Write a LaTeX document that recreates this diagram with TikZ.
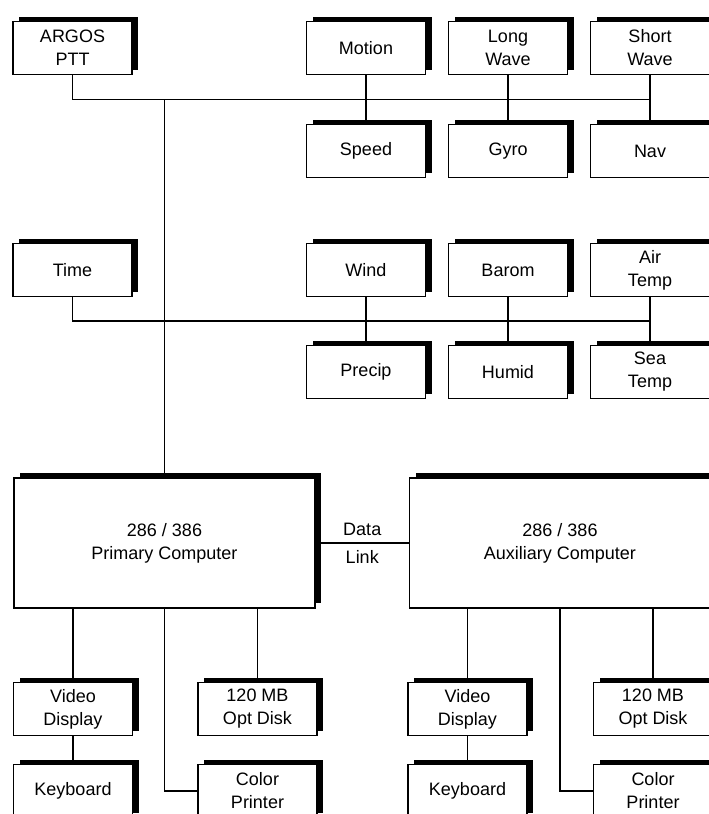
\documentclass[tikz,border=0pt]{standalone}
\usepackage{fontspec}
\setmainfont{Liberation Sans}
\usetikzlibrary{positioning,shadows,calc}

\begin{document}
\begin{tikzpicture}[x=1pt, y=1pt, node distance=142pt, auto, font=\fontsize{18}{23}\selectfont,
    unitbox/.style={rectangle, draw, fill=white, line width=1.6pt, minimum width=119pt, minimum height=53pt, align=center,
        drop shadow={shadow xshift=6pt, shadow yshift=5pt, fill=black, opacity=1}},
    cpubox/.style={unitbox, minimum width=301pt, minimum height=130pt},
    link/.style={line width=1.2pt}]
    \useasboundingbox (0,0) rectangle (709,-814);
    \clip (0,0) rectangle (709,-814);

    % navigation sensors
    \node (argos) [unitbox] at (72.5,-48) {ARGOS\\PTT};
    \node (motion) [unitbox, right of=argos, xshift=151.5pt] {Motion};
    \node (longwave) [unitbox, right of=motion] {Long\\Wave};
    \node (shortwave) [unitbox, right of=longwave] {Short\\Wave};
    \node (speed) [unitbox, below of=motion, yshift=39pt] {Speed};
    \node (gyro) [unitbox, below of=longwave, yshift=39pt] {Gyro};
    \node (nav) [unitbox, below of=shortwave, yshift=39pt] {Nav};

    % weather sensors
    \node (time) [unitbox, below of=argos, yshift=-80pt] {Time};
    \node (wind) [unitbox, below of=motion, yshift=-80pt] {Wind};
    \node (barom) [unitbox, below of=longwave, yshift=-80pt] {Barom};
    \node (airtemp) [unitbox, below of=shortwave, yshift=-80pt] {Air\\Temp};
    \node (precip) [unitbox, below of=wind, yshift=40pt] {Precip};
    \node (humid) [unitbox, below of=barom, yshift=40pt] {Humid};
    \node (seatemp) [unitbox, below of=airtemp, yshift=40pt] {Sea\\Temp};

    % computers
    \node (primary) [cpubox, below of=time, xshift=92pt, yshift=-131pt] {286 / 386\\Primary Computer};
    \node (auxiliary) [cpubox, right of=primary, xshift=253.5pt] {286 / 386\\Auxiliary Computer};

    % peripherals
    \node (video1) [unitbox, below of=primary, xshift=-91.5pt, yshift=-24pt] {Video\\Display};
    \node (optdisk1) [unitbox, right of=video1, xshift=42.5pt] {120 MB\\Opt Disk};
    \node (keyboard1) [unitbox, below of=video1, yshift=60pt] {Keyboard};
    \node (printer1) [unitbox, below of=optdisk1, yshift=60pt] {Color\\Printer};
    \node (video2) [unitbox, below of=auxiliary, xshift=-92.5pt, yshift=-24pt] {Video\\Display};
    \node (optdisk2) [unitbox, right of=video2, xshift=43.5pt] {120 MB\\Opt Disk};
    \node (keyboard2) [unitbox, below of=video2, yshift=60pt] {Keyboard};
    \node (printer2) [unitbox, below of=optdisk2, yshift=60pt] {Color\\Printer};

    \coordinate (bus1) at ($(shortwave.south)!0.5!(nav.north)$);
    \coordinate (bus2) at ($(airtemp.south)!0.5!(seatemp.north)$);
    \coordinate (trunk) at (primary.north |- bus1);

    \draw [link] (argos.south) |- (bus1);
    \draw [link] (motion) -- (speed);
    \draw [link] (longwave) -- (gyro);
    \draw [link] (shortwave) -- (nav);
    \draw [link] (time.south) |- (bus2);
    \draw [link] (wind) -- (precip);
    \draw [link] (barom) -- (humid);
    \draw [link] (airtemp) -- (seatemp);
    \draw [link] (trunk) -- (primary);

    \draw [link] (primary) -- node [inner sep=7pt] {Data} node [swap, inner sep=7pt] {Link} (auxiliary);

    \draw [link] (video1) -- (video1 |- primary.south);
    \draw [link] (optdisk1) -- (optdisk1 |- primary.south);
    \draw [link] (primary) |- (printer1);
    \draw [link] (video1) -- (keyboard1);
    \draw [link] (video2) -- (video2 |- auxiliary.south);
    \draw [link] (optdisk2) -- (optdisk2 |- auxiliary.south);
    \draw [link] (auxiliary) |- (printer2);
    \draw [link] (video2) -- (keyboard2);
\end{tikzpicture}
\end{document}
